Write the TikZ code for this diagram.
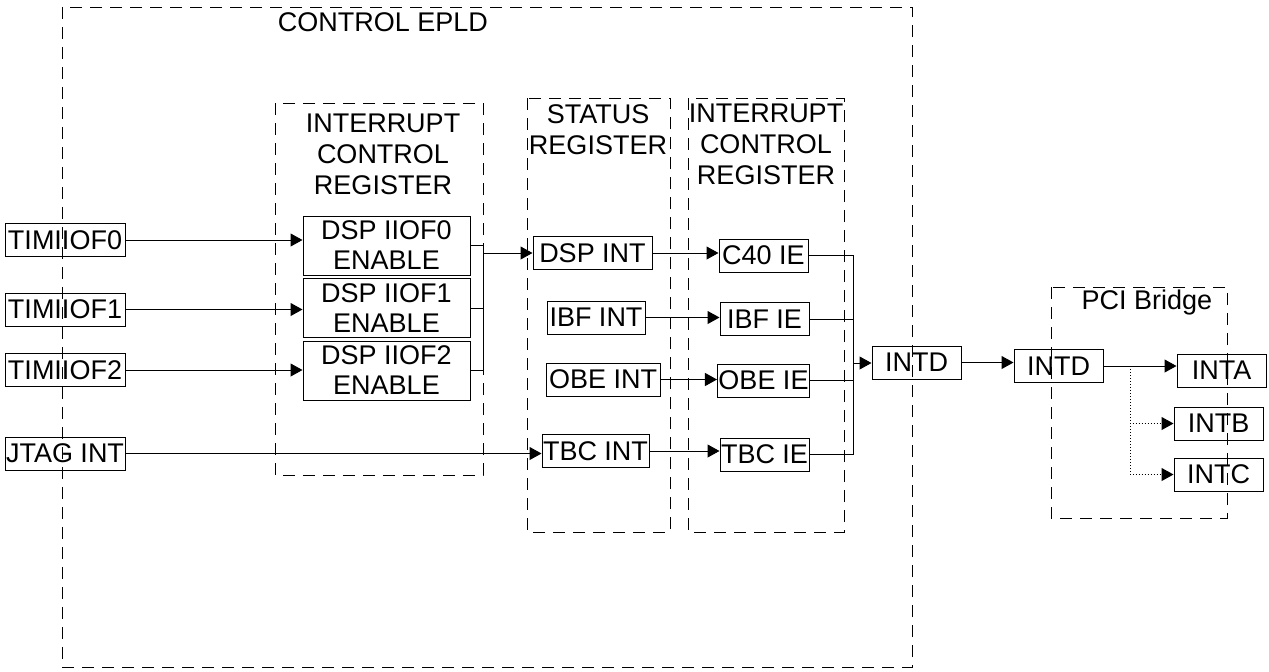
\documentclass[tikz,border=0pt]{standalone}
\usepackage{fontspec}
\setmainfont{Liberation Sans}
\usepackage{tikz}
\usetikzlibrary{arrows.meta}

\begin{document}
\begin{tikzpicture}[
  x=0.5pt, y=-0.5pt,
  font=\fontsize{13.5}{15}\selectfont,
  sig/.style={draw, line width=0.5pt, inner sep=0.5pt, minimum height=16.5pt, minimum width=44.5pt},
  inbox/.style={sig, minimum width=60pt},
  enbox/.style={draw, line width=0.5pt, align=center, inner sep=0.5pt, minimum width=83.5pt, minimum height=29.5pt},
  grp/.style={draw, line width=0.5pt, dash pattern=on 6pt off 4pt},
  lbl/.style={align=center, font=\fontsize{13.5}{15.5}\selectfont},
  line/.style={-{Triangle[length=6pt,width=6.5pt]}, line width=0.5pt},
  wire/.style={line width=0.5pt}
]
\useasboundingbox (0,0) rectangle (1269,671);
% dashed groups
\draw[grp] (62,7) rectangle (912,667);
\node[lbl] (epldlbl) at (383,22) {CONTROL EPLD};
\draw[grp] (275,103) rectangle (483,475);
\node[lbl] (icrlbl) at (383,154) {INTERRUPT\\CONTROL\\REGISTER};
\draw[grp] (527,98) rectangle (670,532);
\node[lbl] (statlbl) at (598,130) {STATUS\\REGISTER};
\draw[grp] (688,98) rectangle (844,532);
\node[lbl] (ctrllbl) at (766,144) {INTERRUPT\\CONTROL\\REGISTER};
\draw[grp] (1051,287) rectangle (1227,518);
\node[lbl] (pcilbl) at (1147,303) {PCI Bridge};
% inputs
\node[inbox] (t0) at (65,240) {TIMIIOF0};
\node[inbox] (t1) at (65,309.5) {TIMIIOF1};
\node[inbox] (t2) at (65,370) {TIMIIOF2};
\node[inbox] (jtag) at (65,453.5) {JTAG INT};
% enable bits
\node[enbox] (en0) at (386.5,245.5) {DSP IIOF0\\ENABLE};
\node[enbox] (en1) at (386.5,308) {DSP IIOF1\\ENABLE};
\node[enbox] (en2) at (386.5,370.5) {DSP IIOF2\\ENABLE};
% status register
\node[sig, minimum width=59.5pt] (dspint) at (592.5,253) {DSP INT};
\node[sig, minimum width=49pt] (ibfint) at (596,317.5) {IBF INT};
\node[sig, minimum width=57pt] (obeint) at (603,379.5) {OBE INT};
\node[sig, minimum width=51.5pt] (tbcint) at (595.5,451) {TBC INT};
% interrupt enables
\node[sig] (c40ie) at (763.5,255.5) {C40 IE};
\node[sig] (ibfie) at (764.5,319) {IBF IE};
\node[sig] (obeie) at (763.5,380.5) {OBE IE};
\node[sig] (tbcie) at (764.5,454.5) {TBC IE};
% outputs
\node[sig] (intd) at (916.5,362.5) {INTD};
\node[sig] (pcid) at (1058.5,366) {INTD};
\node[sig] (inta) at (1221.5,370.5) {INTA};
\node[sig] (intb) at (1218.5,423.5) {INTB};
\node[sig] (intc) at (1218.5,474.5) {INTC};
\coordinate (bus1) at (483,253);
\coordinate (bus2) at (853,363);
\coordinate (split) at (1130,366);
% connections
\draw[line] (t0.east) -- (t0.east -| en0.west);
\draw[line] (t1.east) -- (t1.east -| en1.west);
\draw[line] (t2.east) -- (t2.east -| en2.west);
\draw[line] (jtag.east) -- (jtag.east -| tbcint.west);
\draw[wire] (en0.east) -| (bus1);
\draw[wire] (en2.east) -| (bus1);
\draw[wire] (en1.east) -- (en1.east -| bus1);
\draw[line] (bus1) -- (bus1 -| dspint.west);
\draw[line] (dspint.east) -- (dspint.east -| c40ie.west);
\draw[line] (ibfint.east) -- (ibfint.east -| ibfie.west);
\draw[line] (obeint.east) -- (obeint.east -| obeie.west);
\draw[line] (tbcint.east) -- (tbcint.east -| tbcie.west);
\draw[wire] (c40ie.east) -| (bus2);
\draw[wire] (tbcie.east) -| (bus2);
\draw[wire] (ibfie.east) -- (ibfie.east -| bus2);
\draw[wire] (obeie.east) -- (obeie.east -| bus2);
\draw[line] (bus2) -- (bus2 -| intd.west);
\draw[line] (intd.east) -- (intd.east -| pcid.west);
\draw[line] (pcid.east) -- (pcid.east -| inta.west);
\draw[line, densely dotted] (split) |- (intb.west);
\draw[line, densely dotted] (split) |- (intc.west);
\end{tikzpicture}
\end{document}
